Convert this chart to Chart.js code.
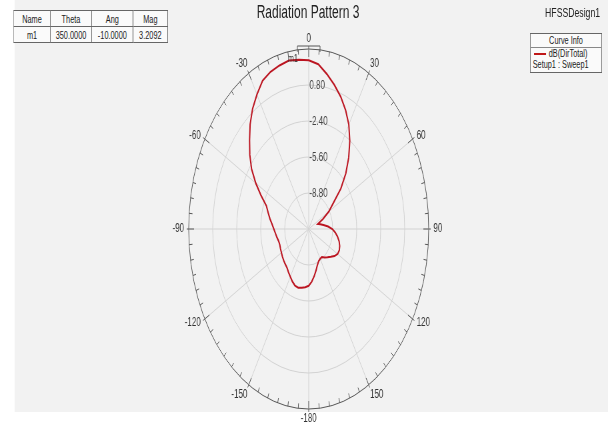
<!DOCTYPE html>
<html><head><meta charset="utf-8">
<script src="https://cdn.jsdelivr.net/npm/chart.js@4/dist/chart.umd.min.js"></script>
<style>
html,body{margin:0;padding:0;background:#fff;overflow:hidden;width:608px;height:426px;}
#wrap{position:absolute;left:0;top:0;width:912px;height:426px;transform:scaleX(0.6667);transform-origin:0 0;font-family:"Liberation Sans",Arial,sans-serif;color:#222;}
#bg{position:absolute;left:22px;top:0;width:890px;height:412px;background:#f2f2f2;}
#c{position:absolute;left:0;top:0;}
#title{position:absolute;left:0;width:924px;top:2px;text-align:center;font-size:18px;color:#222;}
#design{position:absolute;right:12px;top:5px;font-size:13px;color:#222;}
table.mk{position:absolute;left:20px;top:10px;border-collapse:collapse;background:#fafafa;font-size:11px;}
table.mk td{border:1px solid #666;height:15px;padding:0;text-align:center;}
#legend{position:absolute;left:795px;top:33px;width:106px;height:38px;border:1px solid #666;background:#fafafa;font-size:11px;}
#legend .hd{height:13px;border-bottom:1px solid #888;text-align:center;line-height:13px;}
#legend .row{height:11px;line-height:11px;white-space:nowrap;position:relative;}
#legend .sw{display:inline-block;width:18px;height:2px;background:#c01818;vertical-align:middle;margin:0 4px 0 5px;}
</style></head>
<body>
<div id="wrap">
  <div id="bg"></div>
  <canvas id="c" width="912" height="426"></canvas>
  <div id="title">Radiation Pattern 3</div>
  <div id="design">HFSSDesign1</div>
  <table class="mk">
    <tr><td style="width:54px">Name</td><td style="width:61px">Theta</td><td style="width:61px">Ang</td><td style="width:51px">Mag</td></tr>
    <tr><td>m1</td><td>350.0000</td><td>-10.0000</td><td>3.2092</td></tr>
  </table>
  <div id="legend">
    <div class="hd">Curve Info</div>
    <div class="row"><span class="sw"></span>dB(DirTotal)</div>
    <div class="row" style="padding-left:3px">Setup1 : Sweep1</div>
  </div>
</div>
<script>
// Angle categories, degrees, clockwise from top
const thetaDeg = ['0','5','10','15','20','25','30','35','40','45','50','55','60','65','70','75','80','85',
  '90','95','100','105','110','115','120','125','130','135','140','145','150','155','160','165','170','175',
  '-180','-175','-170','-165','-160','-155','-150','-145','-140','-135','-130','-125','-120','-115','-110','-105','-100','-95',
  '-90','-85','-80','-75','-70','-65','-60','-55','-50','-45','-40','-35','-30','-25','-20','-15','-10','-5'];
// dB(DirTotal)
const dirTotal = [3.0,2.7,1.98,1.25,0.5,-0.35,-1.3,-2.45,-3.7,-5.0,-6.4,-8.0,-8.9,-9.9,-10.7,-10.4,-10.0,-9.4,
  -8.85,-8.45,-8.1,-7.8,-7.6,-7.5,-7.55,-7.8,-8.15,-8.45,-8.7,-8.95,-8.95,-8.85,-8.6,-8.2,-7.75,-7.3,
  -6.95,-6.8,-6.7,-6.6,-6.65,-6.85,-7.1,-7.3,-7.5,-7.58,-7.65,-7.72,-7.8,-7.85,-7.9,-7.85,-7.7,-7.55,
  -7.35,-7.1,-6.75,-6.4,-6.0,-5.0,-3.85,-2.7,-1.75,-0.85,0.15,1.05,1.8,2.55,2.87,3.05,3.21,3.1];
// angle tick labels shown every 30 degrees
const angleTickLabels = ['0','30','60','90','120','150','-180','-150','-120','-90','-60','-30'];
// radial axis
const rMin = -12.0, rMax = 4.0, rStep = 3.2;
const markerName = 'm1', markerAngle = '-10';

const overlay = {
  id: 'overlay',
  afterDatasetsDraw(chart) {
    const s = chart.scales.r, ctx = chart.ctx, R = s.drawingArea;
    const n = chart.data.labels.length;
    ctx.save();
    // outer ring ticks
    ctx.strokeStyle = '#555'; ctx.lineWidth = 1;
    for (let i = 0; i < n; i++) {
      const major = i % 6 === 0;
      const a = s.getPointPosition(i, R - (major ? 8 : 5));
      const b = s.getPointPosition(i, R + (major ? 3 : 0));
      ctx.beginPath(); ctx.moveTo(a.x, a.y); ctx.lineTo(b.x, b.y); ctx.stroke();
    }
    // small marker bracket at the 0 degree tick
    const top = s.getPointPosition(0, R);
    ctx.beginPath();
    ctx.moveTo(top.x - 17, top.y + 3); ctx.lineTo(top.x - 17, top.y - 3);
    ctx.lineTo(top.x + 17, top.y - 3); ctx.lineTo(top.x + 17, top.y + 3);
    ctx.stroke();
    // angle labels
    ctx.fillStyle = '#333'; ctx.font = '12px "Liberation Sans", Arial, sans-serif';
    const step = n / angleTickLabels.length;
    angleTickLabels.forEach((lab, k) => {
      const p0 = s.getPointPosition(k * step, R);
      const th = p0.angle + Math.PI / 2;
      const sn = Math.sin(th), cs = Math.cos(th);
      const vert = Math.abs(cs) > 0.6;
      const p = s.getPointPosition(k * step, R + (vert ? 4 : 7));
      ctx.textAlign = sn > 0.05 ? 'left' : (sn < -0.05 ? 'right' : 'center');
      ctx.textBaseline = cs > 0.6 ? 'bottom' : (cs < -0.6 ? 'top' : 'middle');
      ctx.fillText(lab, p.x, p.y);
    });
    // ring value labels
    ctx.textAlign = 'left'; ctx.textBaseline = 'middle'; ctx.fillStyle = '#444';
    s.ticks.forEach((t, i) => {
      if (i === 0 || i === s.ticks.length - 1) return;
      const d = s.getDistanceFromCenterForValue(t.value);
      ctx.fillText(t.value.toFixed(2), s.xCenter + 1, s.yCenter - d + 1);
    });
    // marker label
    const idx = chart.data.labels.indexOf(markerAngle);
    const pt = chart.getDatasetMeta(0).data[idx];
    ctx.font = '11px "Liberation Sans", Arial, sans-serif';
    ctx.textAlign = 'center'; ctx.fillStyle = '#333';
    ctx.fillText(markerName, pt.x + 6, pt.y - 2);
    ctx.restore();
  }
};

new Chart(document.getElementById('c'), {
  type: 'radar',
  data: {
    labels: thetaDeg,
    datasets: [{
      label: 'dB(DirTotal)',
      data: dirTotal,
      borderColor: '#bb1420',
      borderWidth: 2,
      pointRadius: 0,
      fill: false,
      tension: 0
    }]
  },
  options: {
    responsive: false,
    animation: false,
    devicePixelRatio: 1,
    layout: { padding: { left: 283, right: 269, top: 49, bottom: 17 } },
    plugins: { legend: { display: false }, tooltip: { enabled: false } },
    scales: {
      r: {
        min: rMin, max: rMax,
        ticks: { stepSize: rStep, display: false },
        pointLabels: { display: false },
        grid: {
          circular: true,
          color: c => c.index === 5 ? '#555' : '#d2d2d2',
          lineWidth: 1
        },
        angleLines: {
          display: true,
          color: c => (c.index % 6 === 0) ? '#d2d2d2' : 'rgba(0,0,0,0)',
          lineWidth: 1
        }
      }
    }
  },
  plugins: [overlay]
});
</script>
</body></html>
